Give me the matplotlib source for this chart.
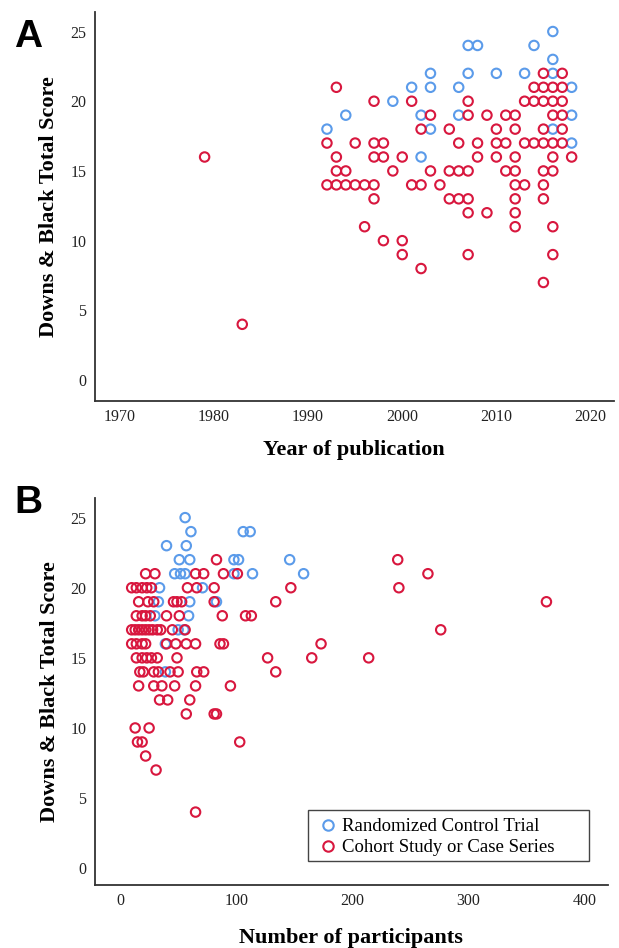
import matplotlib
matplotlib.use("Agg")
import matplotlib.pyplot as plt
from matplotlib.lines import Line2D
from matplotlib.patches import Rectangle

# ---------------- Data ----------------
# Panel A: year of publication vs Downs & Black score
rct_year = [2016, 2007, 2008, 2014, 2016, 2003, 2007, 2010, 2013, 2016,
            2001, 2003, 2006, 2018, 1999, 1994, 2002, 2006, 2018,
            1992, 2003, 2016, 2018, 2002]
rct_year_score = [25, 24, 24, 24, 23, 22, 22, 22, 22, 22,
                  21, 21, 21, 21, 20, 19, 19, 19, 19,
                  18, 18, 18, 17, 16]

coh_year = [2015, 2017,
            1993, 2014, 2015, 2016, 2017,
            1997, 2001, 2007, 2013, 2014, 2015, 2016, 2017,
            2003, 2007, 2009, 2011, 2012, 2016, 2017,
            2002, 2005, 2010, 2012, 2015, 2017,
            1992, 1995, 1997, 1998, 2006, 2008, 2010, 2011, 2013, 2014, 2015, 2016, 2017,
            1979, 1993, 1997, 1998, 2000, 2008, 2010, 2012, 2016, 2018,
            1993, 1994, 1999, 2003, 2005, 2006, 2007, 2011, 2012, 2015, 2016,
            1992, 1993, 1994, 1995, 1996, 1997, 2001, 2002, 2004, 2012, 2013, 2015,
            1997, 2005, 2006, 2007, 2012, 2015,
            2007, 2009, 2012,
            1996, 2012, 2016,
            1998, 2000,
            2000, 2007, 2016,
            2002,
            2015,
            1983]
coh_year_score = [22, 22,
                  21, 21, 21, 21, 21,
                  20, 20, 20, 20, 20, 20, 20, 20,
                  19, 19, 19, 19, 19, 19, 19,
                  18, 18, 18, 18, 18, 18,
                  17, 17, 17, 17, 17, 17, 17, 17, 17, 17, 17, 17, 17,
                  16, 16, 16, 16, 16, 16, 16, 16, 16, 16,
                  15, 15, 15, 15, 15, 15, 15, 15, 15, 15, 15,
                  14, 14, 14, 14, 14, 14, 14, 14, 14, 14, 14, 14,
                  13, 13, 13, 13, 13, 13,
                  12, 12, 12,
                  11, 11, 11,
                  10, 10,
                  9, 9, 9,
                  8,
                  7,
                  4]

# Panel B: number of participants vs Downs & Black score
rct_n = [56, 61, 106, 112, 40, 57, 51, 60, 98, 102, 146,
         47, 52, 56, 98, 114, 158, 34, 71, 33, 60, 83,
         30, 59, 50, 55, 39, 39]
rct_n_score = [25, 24, 24, 24, 23, 23, 22, 22, 22, 22, 22,
               21, 21, 21, 21, 21, 21, 20, 20, 19, 19, 19,
               18, 18, 17, 17, 16, 14]

coh_n = [83, 239,
         22, 30, 65, 72, 89, 101, 265,
         10, 14, 19, 23, 27, 58, 66, 81, 147, 240,
         16, 24, 29, 46, 49, 53, 81, 134, 367,
         14, 19, 22, 26, 40, 51, 88, 108, 113,
         10, 13, 16, 19, 22, 25, 28, 32, 35, 45, 56, 276,
         10, 14, 19, 22, 40, 48, 57, 65, 86, 89, 173,
         14, 19, 23, 27, 32, 49, 127, 165, 214,
         17, 20, 29, 33, 43, 50, 66, 72, 134,
         16, 29, 36, 47, 65, 95,
         34, 41, 60,
         57, 81, 83,
         13, 25,
         15, 19, 103,
         22,
         31,
         65]
coh_n_score = [22, 22,
               21, 21, 21, 21, 21, 21, 21,
               20, 20, 20, 20, 20, 20, 20, 20, 20, 20,
               19, 19, 19, 19, 19, 19, 19, 19, 19,
               18, 18, 18, 18, 18, 18, 18, 18, 18,
               17, 17, 17, 17, 17, 17, 17, 17, 17, 17, 17, 17,
               16, 16, 16, 16, 16, 16, 16, 16, 16, 16, 16,
               15, 15, 15, 15, 15, 15, 15, 15, 15,
               14, 14, 14, 14, 14, 14, 14, 14, 14,
               13, 13, 13, 13, 13, 13,
               12, 12, 12,
               11, 11, 11,
               10, 10,
               9, 9, 9,
               8,
               7,
               4]

year_ticks = [1970, 1980, 1990, 2000, 2010, 2020]
n_ticks = [0, 100, 200, 300, 400]
score_ticks = [0, 5, 10, 15, 20, 25]
legend_labels = ["Randomized Control Trial", "Cohort Study or Case Series"]
ylabel = "Downs & Black Total Score"

# ---------------- Style ----------------
BLUE = "#5B9BEA"
RED = "#D8173E"
SERIF = ["Liberation Serif", "DejaVu Serif"]
plt.rcParams["font.family"] = SERIF

W, H = 619, 948
fig = plt.figure(figsize=(W / 100, H / 100), dpi=100)

def px_axes(left, top, right, bottom):
    return fig.add_axes([left / W, 1 - bottom / H, (right - left) / W, (bottom - top) / H])

axA = px_axes(94.5, 12, 614, 401)
axB = px_axes(94.5, 498, 608, 885)

mk = dict(s=46, facecolors="none", linewidths=1.5, marker="o")

axA.scatter(rct_year, rct_year_score, edgecolors=BLUE, **mk)
axA.scatter(coh_year, coh_year_score, edgecolors=RED, **mk)
axB.scatter(rct_n, rct_n_score, edgecolors=BLUE, **mk)
axB.scatter(coh_n, coh_n_score, edgecolors=RED, **mk)

axA.set_xlim(1967.3, 2022.5)
axA.set_ylim(-1.5, 26.4)
axB.set_xlim(-22, 420)
axB.set_ylim(-1.2, 26.4)

axA.set_xticks(year_ticks)
axB.set_xticks(n_ticks)
for ax in (axA, axB):
    ax.set_yticks(score_ticks)
    for sp in ("top", "right"):
        ax.spines[sp].set_visible(False)
    for sp in ("left", "bottom"):
        ax.spines[sp].set_linewidth(1.3)
        ax.spines[sp].set_color("#333333")
    ax.tick_params(length=0, labelsize=11.5, pad=6, colors="#222222")
    ax.set_ylabel(ylabel, fontsize=16, fontweight="bold")
    ax.yaxis.set_label_coords(-0.068, 0.5)

axA.set_xlabel("Year of publication", fontsize=16, fontweight="bold")
axA.xaxis.set_label_coords(0.5, -0.1)
axB.set_xlabel("Number of participants", fontsize=16, fontweight="bold")
axB.xaxis.set_label_coords(0.5, -0.11)

handles = [Line2D([], [], marker="o", linestyle="none", markerfacecolor="none",
                  markeredgecolor=c, markeredgewidth=1.5, markersize=7.5)
           for c in (BLUE, RED)]
leg = axB.legend(handles, legend_labels, loc="upper left",
                 bbox_to_anchor=(318.6 / W, 1 - 818 / H), bbox_transform=fig.transFigure,
                 fontsize=13.5, frameon=False,
                 handletextpad=0.25, handlelength=1.0, borderpad=0.0, labelspacing=0.22,
                 borderaxespad=0)
# legend box (wider than its contents, as in the original)
fig.patches.append(Rectangle((308 / W, 1 - 861 / H), (589 - 308) / W, (861 - 810) / H,
                             transform=fig.transFigure, fill=False,
                             edgecolor="#444444", linewidth=1.0))

fig.text(14 / W, 1 - 19 / H, "A", fontsize=28, fontweight="bold", va="top", ha="left",
         family=["Liberation Sans", "DejaVu Sans"])
fig.text(14 / W, 1 - 485 / H, "B", fontsize=28, fontweight="bold", va="top", ha="left",
         family=["Liberation Sans", "DejaVu Sans"])

fig.savefig("out.png", dpi=100)
